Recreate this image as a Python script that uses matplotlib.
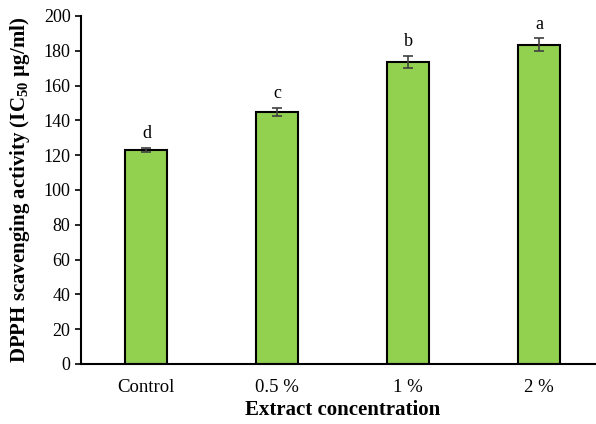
import matplotlib
matplotlib.use("Agg")
import matplotlib.pyplot as plt

categories = ["Control", "0.5 %", "1 %", "2 %"]
values = [123.2, 145.0, 173.8, 183.6]
errors = [1.2, 2.3, 3.4, 3.7]
letters = ["d", "c", "b", "a"]
yticks = [0, 20, 40, 60, 80, 100, 120, 140, 160, 180, 200]

plt.rcParams['font.family'] = ['Liberation Serif', 'DejaVu Serif']
plt.rcParams['mathtext.fontset'] = 'custom'
plt.rcParams['mathtext.rm'] = 'Liberation Serif'
plt.rcParams['mathtext.bf'] = 'Liberation Serif:bold'

fig = plt.figure(figsize=(5.96, 4.24), dpi=100)
ax = fig.add_axes([81/596, 60/424, (604.5-81)/596, (364-16)/424])

x = list(range(len(categories)))
ax.bar(x, values, width=0.32, color="#92D050", edgecolor="black", linewidth=1.5,
       yerr=errors, error_kw=dict(ecolor="#404040", elinewidth=1.2, capsize=3.6, capthick=1.2),
       zorder=2)
for xi, v, e, l in zip(x, values, errors, letters):
    ax.annotate(l, (xi, v + e), xytext=(0, 4), textcoords="offset points",
                ha="center", va="bottom", fontsize=13)

ax.set_xlim(-0.5, 3.5)
ax.set_ylim(0, 200)
ax.set_yticks(yticks)
ax.set_xticks(x)
ax.set_xticklabels(categories, fontsize=13.5)
ax.tick_params(axis="y", labelsize=13, direction="out", length=4, width=1.2)
ax.tick_params(axis="x", length=0, pad=11)
for s in ["top", "right"]:
    ax.spines[s].set_visible(False)
for s in ["left", "bottom"]:
    ax.spines[s].set_linewidth(1.5)

ax.set_xlabel("Extract concentration", fontsize=15, fontweight="bold", labelpad=3)
ax.set_ylabel(r"DPPH scavenging activity (IC$_{\mathbf{50}}$ µg/ml)", fontsize=15,
              fontweight="bold", labelpad=8)

fig.savefig("out.png", dpi=100)
